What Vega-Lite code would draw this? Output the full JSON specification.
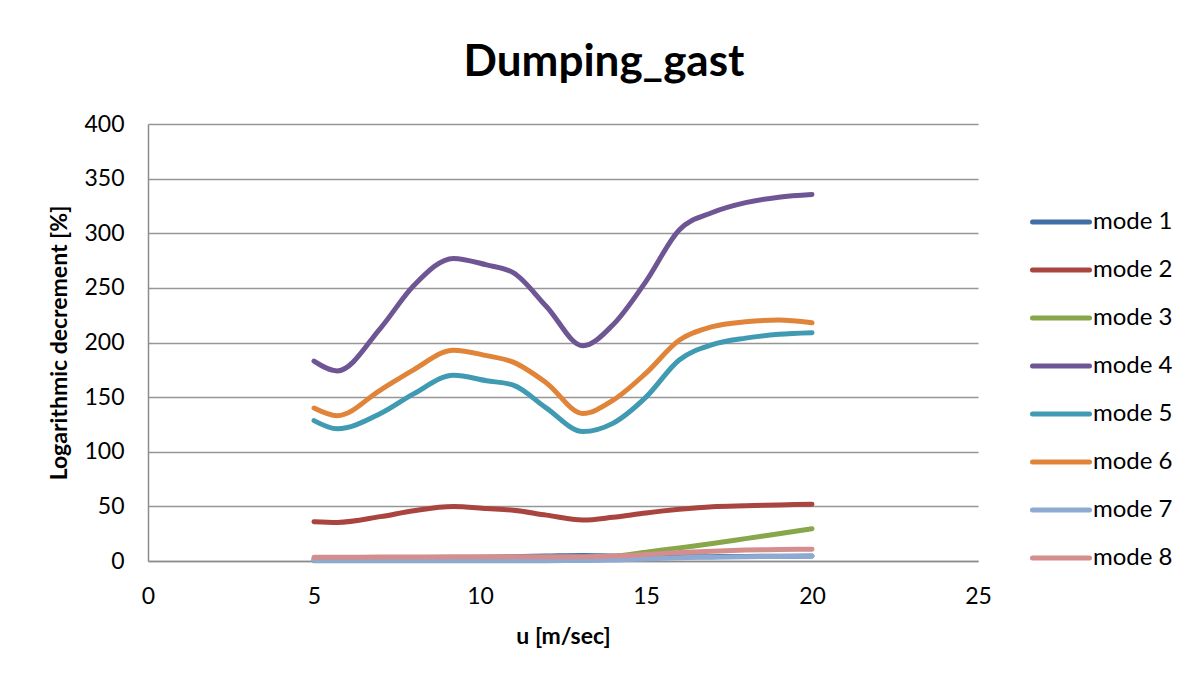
{
  "$schema": "https://vega.github.io/schema/vega-lite/v6.json",
  "width": 830,
  "height": 437,
  "autosize": {"type": "none"},
  "padding": {"left": 148, "top": 124, "right": 217, "bottom": 117},
  "background": "white",
  "config": {
    "view": {"stroke": null},
    "font": "Lato",
    "axis": {"labelFont": "Lato", "labelFontSize": 23, "labelColor": "black", "titleFont": "Lato", "titleFontSize": 23, "titleFontWeight": "bold", "titleColor": "black", "domainColor": "#8c8c8c", "domainWidth": 1.5, "ticks": false, "gridColor": "#969696", "gridWidth": 1.5}
  },
  "title": {"text": "Dumping_gast", "font": "Lato", "fontSize": 44, "fontWeight": "bold", "color": "black", "anchor": "middle", "frame": "group", "dx": 41, "baseline": "alphabetic", "offset": -7},
  "data": {"values": [
    {"u": 5, "mode": "mode 1", "v": 1.5}, {"u": 5.7, "mode": "mode 1", "v": 1.5}, {"u": 7, "mode": "mode 1", "v": 2}, {"u": 8, "mode": "mode 1", "v": 2.5}, {"u": 9.2, "mode": "mode 1", "v": 3}, {"u": 10.2, "mode": "mode 1", "v": 3.5}, {"u": 11, "mode": "mode 1", "v": 4}, {"u": 12, "mode": "mode 1", "v": 4.5}, {"u": 13.1, "mode": "mode 1", "v": 5}, {"u": 14, "mode": "mode 1", "v": 4.5}, {"u": 15, "mode": "mode 1", "v": 4}, {"u": 16, "mode": "mode 1", "v": 4}, {"u": 17, "mode": "mode 1", "v": 4}, {"u": 18, "mode": "mode 1", "v": 4.2}, {"u": 19, "mode": "mode 1", "v": 4.3}, {"u": 20, "mode": "mode 1", "v": 4.5},
    {"u": 5, "mode": "mode 2", "v": 36}, {"u": 5.7, "mode": "mode 2", "v": 35.3}, {"u": 7, "mode": "mode 2", "v": 40.6}, {"u": 8, "mode": "mode 2", "v": 46}, {"u": 9.2, "mode": "mode 2", "v": 49.8}, {"u": 10.2, "mode": "mode 2", "v": 48}, {"u": 11, "mode": "mode 2", "v": 46.5}, {"u": 12, "mode": "mode 2", "v": 42}, {"u": 13.1, "mode": "mode 2", "v": 37.5}, {"u": 14, "mode": "mode 2", "v": 40}, {"u": 15, "mode": "mode 2", "v": 44}, {"u": 16, "mode": "mode 2", "v": 47.3}, {"u": 17, "mode": "mode 2", "v": 49.7}, {"u": 18, "mode": "mode 2", "v": 50.6}, {"u": 19, "mode": "mode 2", "v": 51.3}, {"u": 20, "mode": "mode 2", "v": 52},
    {"u": 5, "mode": "mode 3", "v": 0.3}, {"u": 5.7, "mode": "mode 3", "v": 0.3}, {"u": 7, "mode": "mode 3", "v": 0.3}, {"u": 8, "mode": "mode 3", "v": 0.3}, {"u": 9.2, "mode": "mode 3", "v": 0.3}, {"u": 10.2, "mode": "mode 3", "v": 0.3}, {"u": 11, "mode": "mode 3", "v": 0.3}, {"u": 12, "mode": "mode 3", "v": 0.3}, {"u": 13.1, "mode": "mode 3", "v": 1}, {"u": 14, "mode": "mode 3", "v": 4}, {"u": 15, "mode": "mode 3", "v": 8}, {"u": 16, "mode": "mode 3", "v": 12}, {"u": 17, "mode": "mode 3", "v": 16}, {"u": 18, "mode": "mode 3", "v": 20.5}, {"u": 19, "mode": "mode 3", "v": 25}, {"u": 20, "mode": "mode 3", "v": 29.5},
    {"u": 5, "mode": "mode 4", "v": 183}, {"u": 5.7, "mode": "mode 4", "v": 174}, {"u": 7, "mode": "mode 4", "v": 213}, {"u": 8, "mode": "mode 4", "v": 252}, {"u": 9.2, "mode": "mode 4", "v": 277}, {"u": 10.2, "mode": "mode 4", "v": 271}, {"u": 11, "mode": "mode 4", "v": 264}, {"u": 12, "mode": "mode 4", "v": 233}, {"u": 13.1, "mode": "mode 4", "v": 197}, {"u": 14, "mode": "mode 4", "v": 216}, {"u": 15, "mode": "mode 4", "v": 256}, {"u": 16, "mode": "mode 4", "v": 303}, {"u": 17, "mode": "mode 4", "v": 319}, {"u": 18, "mode": "mode 4", "v": 328}, {"u": 19, "mode": "mode 4", "v": 333}, {"u": 20, "mode": "mode 4", "v": 335.5},
    {"u": 5, "mode": "mode 5", "v": 128.5}, {"u": 5.7, "mode": "mode 5", "v": 121}, {"u": 7, "mode": "mode 5", "v": 135}, {"u": 8, "mode": "mode 5", "v": 153}, {"u": 9.2, "mode": "mode 5", "v": 170}, {"u": 10.2, "mode": "mode 5", "v": 165}, {"u": 11, "mode": "mode 5", "v": 161}, {"u": 12, "mode": "mode 5", "v": 140}, {"u": 13.1, "mode": "mode 5", "v": 118.5}, {"u": 14, "mode": "mode 5", "v": 126}, {"u": 15, "mode": "mode 5", "v": 150}, {"u": 16, "mode": "mode 5", "v": 184}, {"u": 17, "mode": "mode 5", "v": 198}, {"u": 18, "mode": "mode 5", "v": 204}, {"u": 19, "mode": "mode 5", "v": 207.5}, {"u": 20, "mode": "mode 5", "v": 209},
    {"u": 5, "mode": "mode 6", "v": 140}, {"u": 5.7, "mode": "mode 6", "v": 133}, {"u": 7, "mode": "mode 6", "v": 156.5}, {"u": 8, "mode": "mode 6", "v": 175}, {"u": 9.2, "mode": "mode 6", "v": 193}, {"u": 10.2, "mode": "mode 6", "v": 188}, {"u": 11, "mode": "mode 6", "v": 182}, {"u": 12, "mode": "mode 6", "v": 163}, {"u": 13.1, "mode": "mode 6", "v": 135}, {"u": 14, "mode": "mode 6", "v": 147}, {"u": 15, "mode": "mode 6", "v": 172}, {"u": 16, "mode": "mode 6", "v": 202}, {"u": 17, "mode": "mode 6", "v": 214.5}, {"u": 18, "mode": "mode 6", "v": 219}, {"u": 19, "mode": "mode 6", "v": 220.5}, {"u": 20, "mode": "mode 6", "v": 218},
    {"u": 5, "mode": "mode 7", "v": 0.5}, {"u": 5.7, "mode": "mode 7", "v": 0.5}, {"u": 7, "mode": "mode 7", "v": 0.5}, {"u": 8, "mode": "mode 7", "v": 0.5}, {"u": 9.2, "mode": "mode 7", "v": 0.5}, {"u": 10.2, "mode": "mode 7", "v": 0.5}, {"u": 11, "mode": "mode 7", "v": 0.5}, {"u": 12, "mode": "mode 7", "v": 0.5}, {"u": 13.1, "mode": "mode 7", "v": 0.5}, {"u": 14, "mode": "mode 7", "v": 1}, {"u": 15, "mode": "mode 7", "v": 2}, {"u": 16, "mode": "mode 7", "v": 3}, {"u": 17, "mode": "mode 7", "v": 3.5}, {"u": 18, "mode": "mode 7", "v": 4}, {"u": 19, "mode": "mode 7", "v": 4.2}, {"u": 20, "mode": "mode 7", "v": 4.4},
    {"u": 5, "mode": "mode 8", "v": 3.5}, {"u": 5.7, "mode": "mode 8", "v": 3.5}, {"u": 7, "mode": "mode 8", "v": 3.6}, {"u": 8, "mode": "mode 8", "v": 3.7}, {"u": 9.2, "mode": "mode 8", "v": 3.8}, {"u": 10.2, "mode": "mode 8", "v": 3.8}, {"u": 11, "mode": "mode 8", "v": 3.9}, {"u": 12, "mode": "mode 8", "v": 4}, {"u": 13.1, "mode": "mode 8", "v": 4}, {"u": 14, "mode": "mode 8", "v": 4.5}, {"u": 15, "mode": "mode 8", "v": 6}, {"u": 16, "mode": "mode 8", "v": 7.7}, {"u": 17, "mode": "mode 8", "v": 9}, {"u": 18, "mode": "mode 8", "v": 10}, {"u": 19, "mode": "mode 8", "v": 10.5}, {"u": 20, "mode": "mode 8", "v": 10.8}
  ]},
  "mark": {"type": "line", "interpolate": "monotone", "strokeWidth": 5, "strokeCap": "round", "strokeJoin": "round"},
  "encoding": {
    "x": {"field": "u", "type": "quantitative", "scale": {"domain": [0, 25], "nice": false}, "axis": {"values": [0, 5, 10, 15, 20, 25], "grid": false, "labelFlush": false, "labelPadding": 24, "title": "u [m/sec]", "titlePadding": 17}},
    "y": {"field": "v", "type": "quantitative", "scale": {"domain": [0, 400], "nice": false}, "axis": {"values": [0, 50, 100, 150, 200, 250, 300, 350, 400], "labelPadding": 24, "title": "Logarithmic decrement [%]", "titlePadding": 12}},
    "color": {"field": "mode", "type": "nominal",
      "scale": {"domain": ["mode 1", "mode 2", "mode 3", "mode 4", "mode 5", "mode 6", "mode 7", "mode 8"], "range": ["#416ea6", "#a9443f", "#88a64a", "#6e5593", "#3f9ab2", "#e0843a", "#8eaad3", "#d48e8d"]},
      "legend": {"title": null, "orient": "none", "legendX": 882, "legendY": 67, "symbolType": "stroke", "symbolSize": 3249, "symbolStrokeWidth": 5, "labelFont": "Lato", "labelFontSize": 24, "labelColor": "black", "labelOffset": 1, "rowPadding": 5,
        "encode": {"symbols": {"update": {"strokeCap": {"value": "round"}}}}}
    }
  }
}
